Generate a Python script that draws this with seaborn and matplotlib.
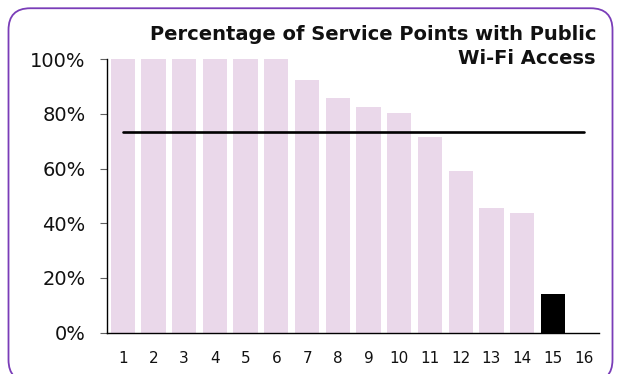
import matplotlib
matplotlib.use("Agg")
import matplotlib.pyplot as plt
from matplotlib.patches import FancyBboxPatch
from matplotlib.ticker import PercentFormatter
import seaborn as sns
import pandas as pd

# Service points 1-16 and the share of each with public Wi-Fi
service_points = [str(i) for i in range(1, 17)]
wifi_share = [100, 100, 100, 100, 100, 100, 92.5, 85.7, 82.4, 80.2,
              71.5, 59.2, 45.4, 43.7, 14.1, 0]
highlighted_point = "15"
average_share = 73.4

title_text = "Percentage of Service Points with Public\nWi-Fi Access"
y_ticks = [0, 20, 40, 60, 80, 100]

bar_colour = "#EAD8EA"
highlight_colour = "#000000"
frame_colour = "#7A3DB8"

sns.set_theme(style="white")
plt.rcParams["font.family"] = ["DejaVu Sans"]

df = pd.DataFrame({"point": service_points, "share": wifi_share})
palette = {p: (highlight_colour if p == highlighted_point else bar_colour)
           for p in service_points}

fig = plt.figure(figsize=(6.19, 3.74), dpi=100)
ax = fig.add_axes([0.1734, 0.1104, 0.9677 - 0.1734, 0.842 - 0.1104])

sns.barplot(data=df, x="point", y="share", hue="point", palette=palette,
            legend=False, width=0.79, saturation=1, ax=ax,
            edgecolor="none")

# Overall average drawn across all service points
avg_df = pd.DataFrame({"pos": list(range(len(service_points))),
                       "avg": [average_share] * len(service_points)})
sns.lineplot(data=avg_df, x="pos", y="avg", color="black", linewidth=1.9,
             ax=ax)

ax.set_xlim(-0.5, len(service_points) - 0.5)
ax.set_ylim(0, 100)
ax.set_yticks(y_ticks)
ax.yaxis.set_major_formatter(PercentFormatter(100, decimals=0))
ax.set_xlabel("")
ax.set_ylabel("")

for side in ["top", "right"]:
    ax.spines[side].set_visible(False)
for side in ["left", "bottom"]:
    ax.spines[side].set_color("black")
    ax.spines[side].set_linewidth(1.0)

ax.tick_params(axis="y", which="both", left=True, length=5, width=0.8,
               color="#606060", pad=10.5, labelsize=14, labelcolor="#111111")
ax.tick_params(axis="x", which="both", bottom=False, length=0, pad=13,
               labelsize=11, labelcolor="#111111")

fig.text(596 / 619, 1 - 64 / 374, title_text, ha="right", va="baseline",
         fontsize=14, fontweight="bold", color="#111111", linespacing=1.36)

# Rounded purple frame around the chart
frame = FancyBboxPatch((8.5 / 619, -0.02), (612.5 - 8.5) / 619, 0.998 - 7.5 / 374 + 0.02,
                       boxstyle="round,pad=0,rounding_size=0.035",
                       transform=fig.transFigure, fill=False,
                       edgecolor=frame_colour, linewidth=1.3,
                       mutation_aspect=619 / 374)
fig.patches.append(frame)

fig.savefig("out.png", dpi=100)
